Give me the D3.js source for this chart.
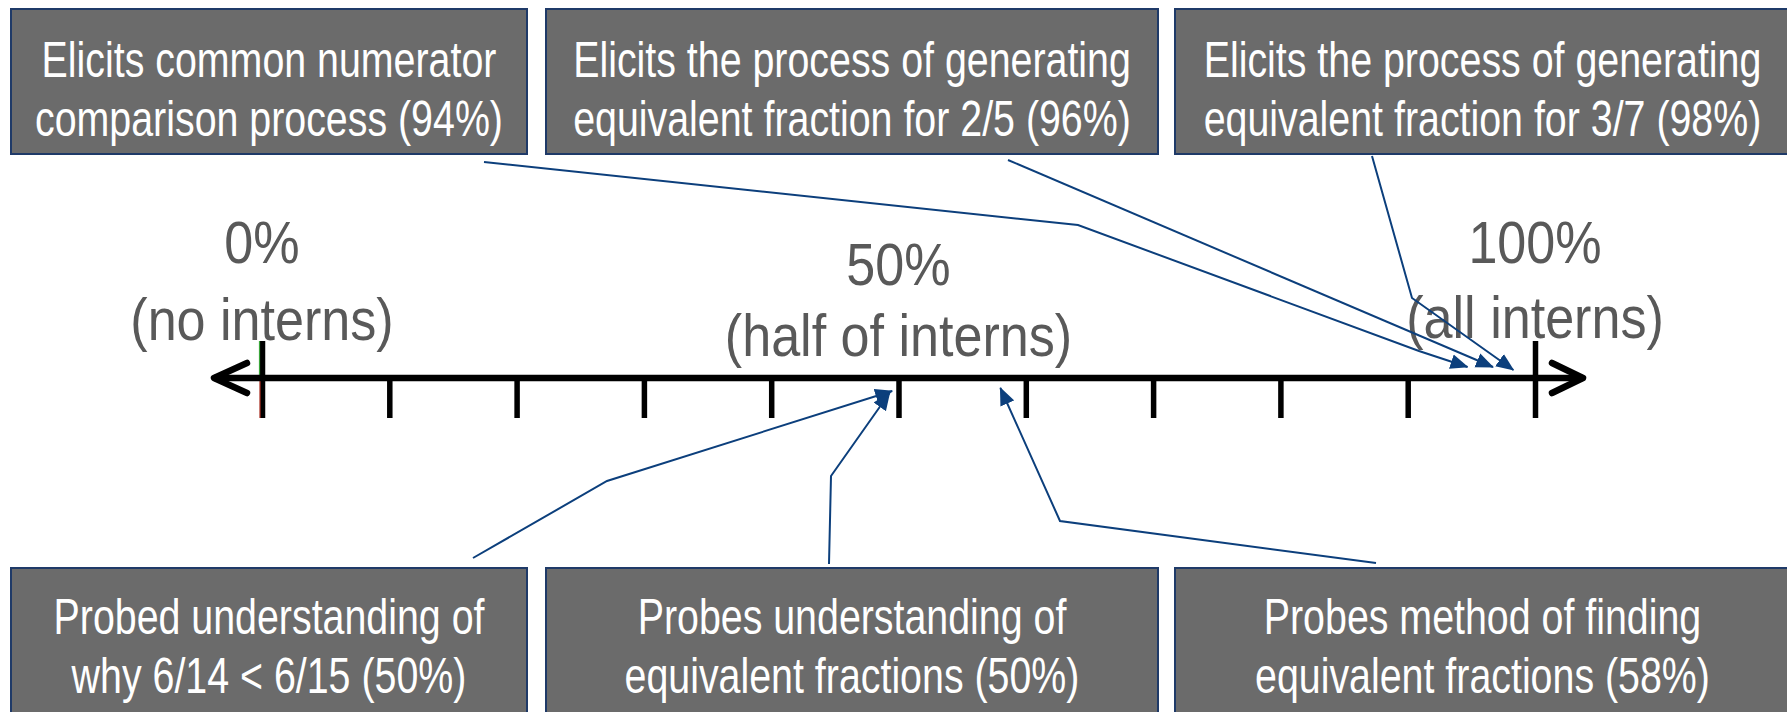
<!DOCTYPE html>
<html><head><meta charset="utf-8">
<script src="https://cdn.jsdelivr.net/npm/d3@7"></script>
<style>html,body{margin:0;padding:0;background:#fff;overflow:hidden}</style>
</head><body><svg id="chart" width="1787" height="712"></svg>
<script>
// ---------- data ----------
const boxLine1 = ["Elicits common numerator", "Elicits the process of generating", "Elicits the process of generating",
                  "Probed understanding of", "Probes understanding of", "Probes method of finding"];
const boxLine2 = ["comparison process", "equivalent fraction for 2/5", "equivalent fraction for 3/7",
                  "why 6/14 < 6/15", "equivalent fractions", "equivalent fractions"];
const percentValues = [94, 96, 98, 50, 50, 58];
const arrowAim = [94.7, 96.7, 98.3, 49.5, 49.3, 58.0];   // where each arrow visually lands (%)
const tickValues = [0, 10, 20, 30, 40, 50, 60, 70, 80, 90, 100];
const endLabelValues = [0, 50, 100];
const endLabelTop = ["0%", "50%", "100%"];
const endLabelBottom = ["(no interns)", "(half of interns)", "(all interns)"];

// ---------- layout / style ----------
const layout = {
  axisY: 378,
  xRange: [262, 1535],
  arrowExt: 48,
  cols: [[11, 527], [546, 1158], [1175, 1790]],
  rows: [[9, 154], [568, 716]],
  boxRow: [0, 0, 0, 1, 1, 1],
  boxCol: [0, 1, 2, 0, 1, 2],
  textBaselines: [[77, 136], [634, 693]],
  labelBaselines: [[263, 340], [285, 356], [263, 338]],
  leaderPts: [
    [[484, 162], [1078, 225], [1419, 351]],
    [[1008, 160]],
    [[1372, 156], [1412, 298]],
    [[473, 558], [607, 481]],
    [[829, 564], [831, 476]],
    [[1376, 563], [1060, 521]]
  ],
  tipY: [367, 367, 370, 391, 393, 388]
};
const style = {
  boxFill: "#6b6b6b", boxStroke: "#1f3a68", boxText: "#ffffff",
  boxFont: 50, boxScaleX: 0.787,
  labelColor: "#595959", labelFont: 59, labelScaleX: 0.883,
  leader: "#0c3f7c"
};
const REG = "'Liberation Sans', Arial, Helvetica, sans-serif";
const NARROW = "'Liberation Sans Narrow', 'Arial Narrow', 'Liberation Sans', Arial, sans-serif";

const svg = d3.select("#chart");
const x = d3.scaleLinear().domain([0, 100]).range(layout.xRange);

// detect whether a real narrow face is installed
function measure(fam) {
  const t = svg.append("text").attr("font-family", fam).attr("font-size", 100).text("Elicits common numerator");
  const w = t.node().getComputedTextLength(); t.remove(); return w;
}
const ratio = measure(NARROW) / measure(REG);
const useNarrow = ratio < 0.95;
const FONT = useNarrow ? NARROW : REG;
const widthFactor = useNarrow ? ratio : 1;

// marker
svg.append("defs").append("marker")
  .attr("id", "tri").attr("markerUnits", "userSpaceOnUse")
  .attr("viewBox", "0 -8 18 16").attr("markerWidth", 18).attr("markerHeight", 16)
  .attr("refX", 17).attr("refY", 0).attr("orient", "auto")
  .append("path").attr("d", "M0,-7.5L18,0L0,7.5Z").attr("fill", style.leader);

function scaledText(g, txt, cx, cy, size, sx, color) {
  g.append("g").attr("transform", `translate(${cx},${cy}) scale(${sx / widthFactor},1)`)
    .append("text").attr("x", 0).attr("y", 0)
    .attr("text-anchor", "middle")
    .attr("font-family", FONT).attr("font-size", size)
    .attr("fill", color).text(txt);
}

// ---------- boxes ----------
const gBoxes = svg.append("g");
percentValues.forEach((v, i) => {
  const c = layout.cols[layout.boxCol[i]], r = layout.rows[layout.boxRow[i]];
  gBoxes.append("rect")
    .attr("x", c[0]).attr("y", r[0]).attr("width", c[1] - c[0]).attr("height", r[1] - r[0])
    .attr("fill", style.boxFill).attr("stroke", style.boxStroke).attr("stroke-width", 2);
  const cx = (c[0] + c[1]) / 2;
  const bl = layout.textBaselines[layout.boxRow[i]];
  scaledText(gBoxes, boxLine1[i], cx, bl[0], style.boxFont, style.boxScaleX, style.boxText);
  scaledText(gBoxes, `${boxLine2[i]} (${v}%)`, cx, bl[1], style.boxFont, style.boxScaleX, style.boxText);
});

// ---------- end labels ----------
const gLab = svg.append("g");
endLabelValues.forEach((v, i) => {
  const b = layout.labelBaselines[i];
  scaledText(gLab, endLabelTop[i], x(v), b[0], style.labelFont, style.labelScaleX, style.labelColor);
  scaledText(gLab, endLabelBottom[i], x(v), b[1], style.labelFont, style.labelScaleX, style.labelColor);
});

// ---------- number line ----------
const gAxis = svg.append("g").attr("transform", `translate(0,${layout.axisY})`);
const axis = d3.axisBottom(x).tickValues(tickValues).tickSize(40).tickFormat(() => "");
gAxis.call(axis);
gAxis.select(".domain").remove();
gAxis.selectAll(".tick line").attr("stroke", "#000").attr("stroke-width", 5.5);
gAxis.selectAll(".tick").filter(d => d === 0 || d === 100).select("line").attr("y1", -37);
// faint coloured edges on the zero tick
gAxis.append("line").attr("x1", x(0) - 2.5).attr("x2", x(0) - 2.5).attr("y1", -37).attr("y2", -2)
  .attr("stroke", "#3aa53a").attr("stroke-width", 1.2);
gAxis.append("line").attr("x1", x(0) - 2).attr("x2", x(0) - 2).attr("y1", 3).attr("y2", 40)
  .attr("stroke", "#d23a2a").attr("stroke-width", 1);

const x0 = x(0) - layout.arrowExt, x1 = x(100) + layout.arrowExt;
gAxis.append("line").attr("x1", x0).attr("x2", x1).attr("y1", 0).attr("y2", 0)
  .attr("stroke", "#000").attr("stroke-width", 6.5);
gAxis.append("path").attr("d", `M${x0 + 33},-15L${x0},0L${x0 + 33},15`)
  .attr("fill", "none").attr("stroke", "#000").attr("stroke-width", 6.5)
  .attr("stroke-linecap", "round").attr("stroke-linejoin", "round");
gAxis.append("path").attr("d", `M${x1 - 31},-15L${x1},0L${x1 - 31},15`)
  .attr("fill", "none").attr("stroke", "#000").attr("stroke-width", 6.5)
  .attr("stroke-linecap", "round").attr("stroke-linejoin", "round");

// ---------- leader arrows ----------
const line = d3.line();
const gLead = svg.append("g");
arrowAim.forEach((a, i) => {
  const pts = layout.leaderPts[i].concat([[x(a), layout.tipY[i]]]);
  gLead.append("path").attr("d", line(pts))
    .attr("fill", "none").attr("stroke", style.leader).attr("stroke-width", 2)
    .attr("marker-end", "url(#tri)");
});
</script>
</body></html>
